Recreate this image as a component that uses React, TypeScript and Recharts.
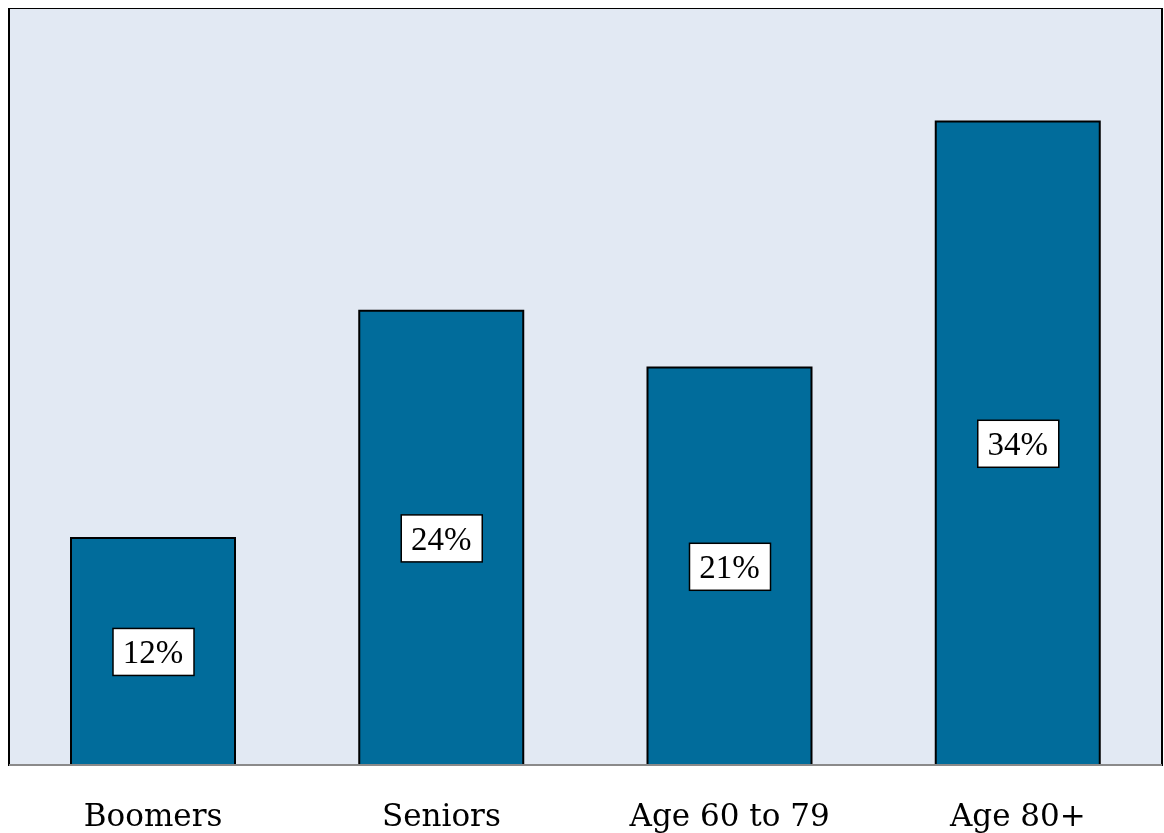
import { BarChart, Bar, XAxis, YAxis, ReferenceArea, LabelList } from 'recharts';

const categories = ['Boomers', 'Seniors', 'Age 60 to 79', 'Age 80+'];
const shares = [12, 24, 21, 34];

const data = categories.map((name, i) => ({ name, value: shares[i] }));

// white boxed percentage label centred in the bar
const BoxLabel = (props: any) => {
  const { x, y, width, height, value } = props;
  const cx = x + width / 2;
  const cy = y + height / 2;
  return (
    <g>
      <rect x={cx - 40} y={cy - 23} width={81} height={47} fill="#fff" stroke="#000" strokeWidth={1.5} />
      <text x={cx} y={cy + 12} textAnchor="middle" fontFamily="'Liberation Serif', serif" fontSize={33} fill="#000">
        {value}%
      </text>
    </g>
  );
};

export default function App() {
  return (
    <div style={{ position: 'fixed', left: 8, top: 8, width: 1156, height: 825 }}>
      <BarChart width={1156} height={825} data={data} margin={{ top: 0, right: 2, left: 1, bottom: 0 }} barCategoryGap={62}>
        <YAxis hide domain={[0, 40]} />
        <ReferenceArea y1={0} y2={40} fill="#e2e9f3" fillOpacity={1} stroke="#000" strokeWidth={2} ifOverflow="visible" />
        <XAxis
          dataKey="name"
          height={68}
          tickLine={false}
          tickSize={0}
          tickMargin={39}
          axisLine={{ stroke: '#8a8a8a', strokeWidth: 2 }}
          tick={{ fontFamily: "'DejaVu Serif', serif", fontSize: 31, fill: '#000' }}
          interval={0}
        />
        <Bar dataKey="value" fill="#016c9b" stroke="#000" strokeWidth={2} isAnimationActive={false}>
          <LabelList dataKey="value" content={BoxLabel} />
        </Bar>
      </BarChart>
    </div>
  );
}
